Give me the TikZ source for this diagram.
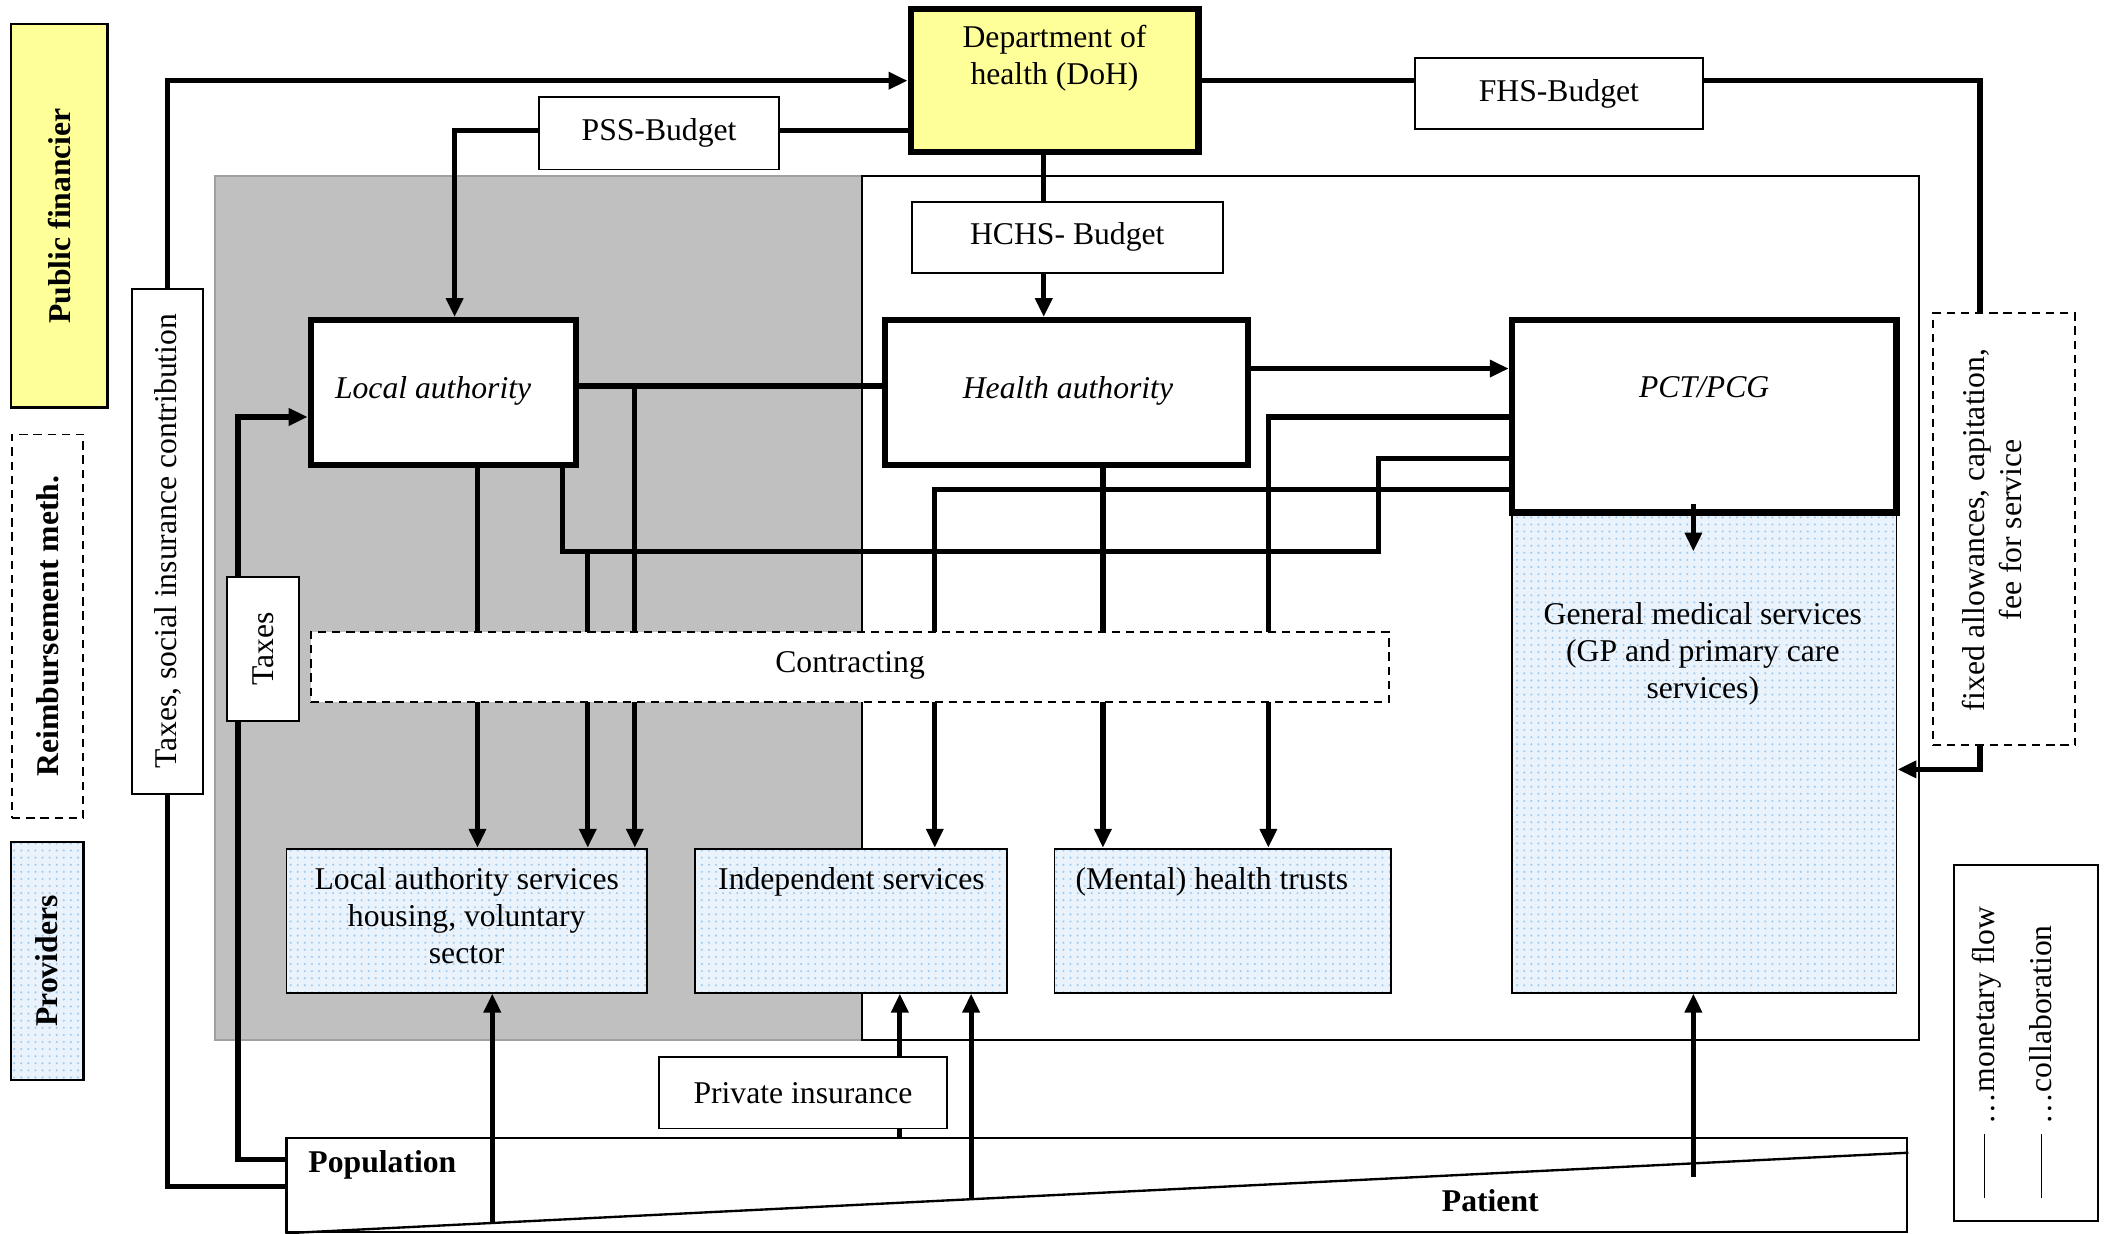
\documentclass[tikz,border=0pt]{standalone}
\usepackage{fontspec}
\setmainfont{Liberation Serif}
\usetikzlibrary{arrows.meta,patterns}
\definecolor{pfyellow}{HTML}{FFFF99}
\definecolor{greyreg}{HTML}{C0C0C0}
\definecolor{greyedge}{HTML}{A0A0A0}
\definecolor{provblue}{HTML}{EAF3FC}
\definecolor{dotblue}{HTML}{9FCBF0}
\newcommand\placebox[7]{\node[#6, minimum width={((#4)-(#2))*0.02cm}, minimum height={((#5)-(#3))*0.02cm}] (#1) at ({((#2)+(#4))/2},{((#3)+(#5))/2}) {#7};}
\begin{document}
\begin{tikzpicture}[x=0.02cm,y=-0.02cm,
  font=\fontsize{13.4}{15.6}\selectfont,
  thinbox/.style={draw, line width=0.8pt, fill=white, inner sep=0pt, align=center},
  thickbox/.style={draw, line width=2.6pt, fill=white, inner sep=0pt, align=center},
  dashbox/.style={draw, line width=0.8pt, dash pattern=on 3.5pt off 2.5pt, fill=white, inner sep=0pt, align=center},
  provbox/.style={draw, line width=0.8pt, inner sep=0pt, preaction={fill=provblue}, preaction={pattern=dots, pattern color=dotblue}},
  flow/.style={line width=2.2pt},
  arr/.style={line width=2.2pt, -{Triangle[length=8pt,width=7pt]}},
  lbl/.style={inner sep=0pt, align=center},
  vlbl/.style={inner sep=0pt, align=center, rotate=90},
]
\useasboundingbox (0,0) rectangle (1568,917);

% regions
\placebox{greyreg}{160}{131}{641}{773}{draw=greyedge, fill=greyreg, line width=0.8pt, inner sep=0pt}{}
\placebox{nhsreg}{641}{131}{1427}{773}{draw, line width=0.8pt, inner sep=0pt}{}

% left legend
\placebox{pf}{8}{18}{80}{303}{draw, line width=1pt, fill=pfyellow, inner sep=0pt}{}
\node[vlbl, font=\fontsize{13.4}{15.6}\selectfont\bfseries] (pft) at (pf.center) {Public financier};
\placebox{rm}{9}{323}{62}{608}{dashbox}{}
\node[vlbl, font=\fontsize{13.4}{15.6}\selectfont\bfseries] (rmt) at (rm.center) {Reimbursement meth.};
\placebox{pv}{8}{626}{62}{803}{provbox, line width=1pt}{}
\node[vlbl, font=\fontsize{13.4}{15.6}\selectfont\bfseries] (pvt) at (pv.center) {Providers};

% financing boxes
\placebox{TaxSI}{98}{215}{151}{590}{thinbox}{}
\node[vlbl] (TaxSIt) at (TaxSI.center) {Taxes, social insurance contribution};
\placebox{Taxes}{169}{429}{222}{536}{thinbox}{}
\node[vlbl] (Taxest) at (Taxes.center) {Taxes};

\placebox{DoH}{677}{7}{891}{113}{thickbox, fill=pfyellow}{}
\node[lbl] (DoHt) at (784,43) {Department of\\health (DoH)};
\placebox{PSS}{401}{72}{579}{126}{thinbox}{PSS-Budget}
\placebox{FHS}{1052}{43}{1266}{96}{thinbox}{FHS-Budget}
\placebox{HCHS}{678}{150}{909}{203}{thinbox}{HCHS- Budget}

\placebox{Fee}{1437}{233}{1543}{554}{dashbox}{}
\node[vlbl] (Feet) at (1481,394) {fixed allowances, capitation,\\fee for service};

% providers
\placebox{GMS}{1124}{381}{1410}{738}{provbox}{}
\node[lbl] (GMSt) at (1266,486) {General medical services\\(GP and primary care\\services)};
\placebox{LAS}{213}{631}{481}{738}{provbox}{}
\node[lbl] (LASt) at (347,681) {Local authority services\\housing, voluntary\\sector};
\placebox{IS}{517}{631}{749}{738}{provbox}{}
\node[lbl] (ISt) at (633,656) {Independent services};
\placebox{MHT}{784}{631}{1034}{738}{provbox}{}
\node[lbl] (MHTt) at (901,656) {(Mental) health trusts};

% authorities
\placebox{LA}{231}{238}{428}{346}{thickbox}{}
\node[lbl, font=\fontsize{13.4}{15.6}\selectfont\itshape] (LAt) at (322,291) {Local authority};
\placebox{HA}{658}{238}{928}{346}{thickbox}{}
\node[lbl, font=\fontsize{13.4}{15.6}\selectfont\itshape] (HAt) at (794,291) {Health authority};
\placebox{PCT}{1124}{238}{1410}{381}{thickbox}{}
\node[lbl, font=\fontsize{13.4}{15.6}\selectfont\itshape] (PCTt) at (1267,288) {PCT/PCG};

% population
\placebox{PI}{490}{786}{704}{839}{thinbox}{Private insurance}
\placebox{Pop}{213}{846}{1418}{916}{draw, line width=1pt, fill=white, inner sep=0pt}{}
\draw[line width=1pt] (Pop.south west) -- (Pop.east |- 0,857);
\node[lbl, anchor=west, font=\fontsize{13.4}{15.6}\selectfont\bfseries] (Popt) at (229,866) {Population};
\node[lbl, font=\fontsize{13.4}{15.6}\selectfont\bfseries] (Patt) at (1108,893) {Patient};

% legend
\placebox{leg}{1453}{643}{1560}{908}{thinbox}{}
\node[inner sep=0pt, rotate=90, anchor=west] (leg1) at (1477,891) {\rule[0.28em]{0.95cm}{0.7pt}\hspace{0.15cm}\ldots monetary flow};
\node[inner sep=0pt, rotate=90, anchor=west] (leg2) at (1517,891) {\rule[0.28em]{0.95cm}{0.7pt}\hspace{0.15cm}\ldots collaboration};

% coordinates
\coordinate (j1) at (472,287);
\coordinate (j2) at (1025,410);
\coordinate (j3) at (437,410);
\coordinate (g1) at (1259,375);
\coordinate (g2) at (1259,410);
\coordinate (pa) at (366,910);
\coordinate (pb) at (722,892);
\coordinate (pc) at (1259,875);

% connectors
\draw[arr] (TaxSI.north) |- (DoH.west |- 0,60);
\draw[flow] (TaxSI.south) |- (Pop.west |- 0,882);
\draw[flow] (Pop.west |- 0,862) -| (Taxes.south -| 177,0);
\draw[arr] (Taxes.north -| 177,0) |- (LA.west |- 0,310);

\draw[flow] (DoH.west |- 0,97) -- (PSS.east |- 0,97);
\draw[arr] (PSS.west |- 0,97) -| (LA.north -| 338,0);
\draw[flow] (DoH.east |- 0,60) -- (FHS.west |- 0,60);
\draw[flow] (FHS.east |- 0,60) -| (Fee.north -| 1472,0);
\draw[arr] (Fee.south -| 1472,0) |- (GMS.east |- 0,572);
\draw[flow] (DoH.south -| 776,0) -- (HCHS.north -| 776,0);
\draw[arr] (HCHS.south -| 776,0) -- (HA.north -| 776,0);

\draw[flow] (LA.east |- 0,287) -- (HA.west |- 0,287);
\draw[arr] (j1) -- (LAS.north -| j1);
\draw[arr] (LA.south -| 355,0) -- (LAS.north -| 355,0);
\draw[flow] (LA.south -| 418,0) |- (j2) |- (PCT.west |- 0,341);
\draw[arr] (j3) -- (LAS.north -| j3);
\draw[arr] (HA.east |- 0,274) -- (PCT.west |- 0,274);
\draw[arr] (PCT.west |- 0,310) -| (MHT.north -| 943,0);
\draw[arr] (PCT.west |- 0,364) -| (IS.north -| 695,0);
\draw[arr] (HA.south -| 820,0) -- (MHT.north -| 820,0);
\draw[arr] (g1) -- (g2);

\draw[arr] (pa) -- (LAS.south -| pa);
\draw[flow] (Pop.north -| 669,0) -- (PI.south -| 669,0);
\draw[arr] (PI.north -| 669,0) -- (IS.south -| 669,0);
\draw[arr] (pb) -- (IS.south -| pb);
\draw[arr] (pc) -- (GMS.south -| pc);

% contracting (on top of the lines)
\placebox{Con}{231}{470}{1033}{522}{dashbox}{}
\node[lbl] (Cont) at (632,495) {Contracting};
\end{tikzpicture}
\end{document}
